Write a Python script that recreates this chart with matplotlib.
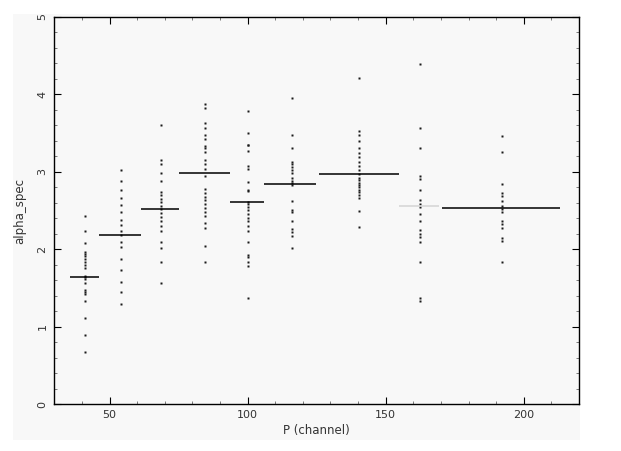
import matplotlib
matplotlib.use('Agg')
import matplotlib.pyplot as plt
from matplotlib.ticker import MultipleLocator
from matplotlib.patches import Rectangle
import numpy as np

# ---- data ----
col_x = [41.0, 54.3, 68.6, 84.5, 100.0, 116.0, 140.3, 162.6, 192.1]

col1 = [2.43, 2.23, 2.08, 1.97, 1.94, 1.91, 1.88, 1.84, 1.80, 1.76, 1.66,
        1.64, 1.61, 1.57, 1.48, 1.45, 1.42, 1.33, 1.11, 0.89, 0.67]
col2 = [3.02, 2.88, 2.76, 2.66, 2.57, 2.48, 2.38, 2.31, 2.24, 2.18, 2.10,
        2.03, 1.88, 1.73, 1.58, 1.45, 1.30]
col3 = [3.60, 3.15, 3.10, 2.99, 2.88, 2.74, 2.70, 2.65, 2.61, 2.56, 2.52,
        2.47, 2.42, 2.36, 2.30, 2.23, 2.10, 2.01, 1.84, 1.57]
col4 = [3.88, 3.82, 3.63, 3.56, 3.47, 3.42, 3.33, 3.30, 3.26, 3.15, 3.10,
        3.03, 2.95, 2.78, 2.73, 2.68, 2.63, 2.58, 2.53, 2.48, 2.43, 2.34,
        2.27, 2.04, 1.84]
col5 = [3.78, 3.50, 3.35, 3.34, 3.27, 3.07, 3.04, 2.87, 2.77, 2.75, 2.61,
        2.58, 2.55, 2.51, 2.46, 2.40, 2.36, 2.30, 2.23, 2.09, 1.93, 1.90,
        1.84, 1.78, 1.37]
col6 = [3.95, 3.48, 3.31, 3.13, 3.10, 3.06, 3.02, 2.98, 2.92, 2.88, 2.85,
        2.83, 2.62, 2.51, 2.48, 2.37, 2.26, 2.22, 2.17, 2.02]
col7 = [4.21, 3.52, 3.47, 3.40, 3.30, 3.24, 3.19, 3.12, 3.07, 3.02, 2.97,
        2.92, 2.89, 2.86, 2.83, 2.80, 2.77, 2.74, 2.70, 2.66, 2.49, 2.29]
col8 = [4.39, 3.56, 3.30, 2.95, 2.91, 2.77, 2.63, 2.59, 2.54, 2.46, 2.37,
        2.25, 2.20, 2.16, 2.09, 1.84, 1.37, 1.33]
col9 = [3.46, 3.26, 2.84, 2.72, 2.69, 2.62, 2.56, 2.52, 2.48, 2.36, 2.33,
        2.28, 2.15, 2.11, 1.84]
columns = [col1, col2, col3, col4, col5, col6, col7, col8, col9]

bin_left = [35.7, 46.1, 61.4, 75.3, 93.6, 106.0, 125.9, 154.7, 170.4]
bin_right = [46.1, 61.4, 75.3, 93.6, 106.0, 124.7, 154.7, 169.3, 213.3]
bin_mean = [1.64, 2.19, 2.52, 2.98, 2.61, 2.84, 2.97, 2.56, 2.53]

x_ticks = [50, 100, 150, 200]
y_ticks = [0, 1, 2, 3, 4, 5]

# styles
bin_colors = ['black'] * 7 + ['#d4d4d4'] + ['black']

fig = plt.figure(figsize=(6.21, 4.51), dpi=100)
fig.patch.set_facecolor('white')
fig.patches.append(Rectangle((13 / 621, 1 - 440 / 451), (580 - 13) / 621,
                             (440 - 14) / 451, transform=fig.transFigure,
                             facecolor='#f8f8f8', edgecolor='none', zorder=-10))

ax = fig.add_axes([54.3 / 621, 1 - 404.3 / 451, (579.0 - 54.3) / 621,
                   (404.3 - 16.7) / 451])
ax.set_facecolor('none')

for x, vals in zip(col_x, columns):
    ax.plot(np.full(len(vals), x), vals, 's', ms=2.0, color='#1a1a1a',
            mec='none', zorder=3)

for l, r, m, c in zip(bin_left, bin_right, bin_mean, bin_colors):
    ax.hlines(m, l, r, colors=c, lw=1.1, zorder=4)

ax.set_xlim(30, 220)
ax.set_ylim(0, 5)
ax.set_xticks(x_ticks)
ax.set_yticks(y_ticks)
ax.xaxis.set_minor_locator(MultipleLocator(10))
ax.yaxis.set_minor_locator(MultipleLocator(0.2))

ax.tick_params(which='both', direction='in', top=True, right=True,
               colors='black', labelcolor='#333333')
ax.tick_params(which='major', length=5, width=0.8, labelsize=8)
ax.tick_params(which='minor', length=2.5, width=0.6, color='#666666')
ax.tick_params(axis='x', which='major', pad=4)
ax.tick_params(axis='y', which='major', pad=5)
for lab in ax.get_yticklabels():
    lab.set_rotation(90)
    lab.set_va('center')

for s in ax.spines.values():
    s.set_linewidth(1.0)
    s.set_color('black')

ax.set_xlabel('P (channel)', fontsize=8.5, color='#333333', labelpad=3)
ax.set_ylabel('alpha_spec', fontsize=8.5, color='#333333', labelpad=8)

fig.savefig('out.png', dpi=100)
